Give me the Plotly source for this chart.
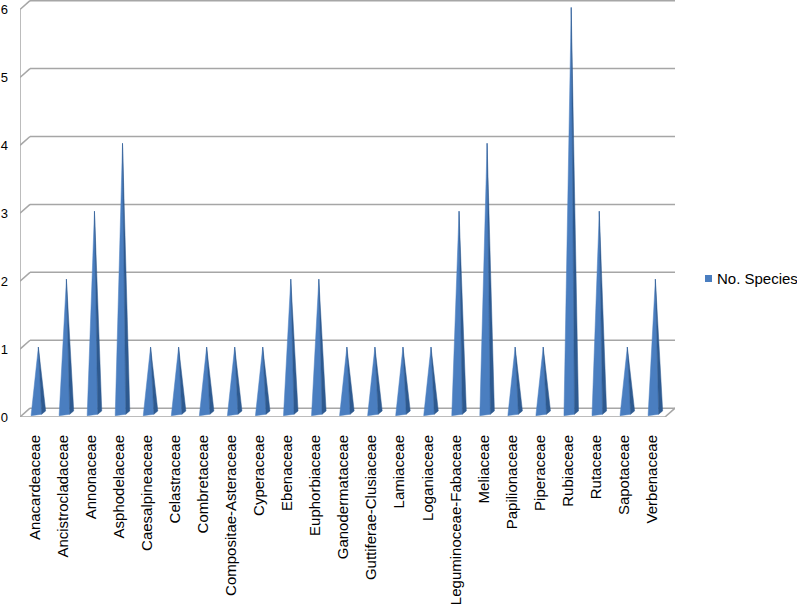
import plotly.graph_objects as go

categories = ["Anacardeaceae", "Ancistrocladaceae", "Annonaceae", "Asphodelaceae",
              "Caesalpineaceae", "Celastraceae", "Combretaceae", "Compositae-Asteraceae",
              "Cyperaceae", "Ebenaceae", "Euphorbiaceae", "Ganodermataceae",
              "Guttiferae-Clusiaceae", "Lamiaceae", "Loganiaceae", "Leguminoceae-Fabaceae",
              "Meliaceae", "Papilionaceae", "Piperaceae", "Rubiaceae", "Rutaceae",
              "Sapotaceae", "Verbenaceae"]
species = [1, 2, 3, 4, 1, 1, 1, 1, 1, 2, 2, 1, 1, 1, 1, 3, 4, 1, 1, 6, 3, 1, 2]
y_ticks = [0, 1, 2, 3, 4, 5, 6]
series_name = "No. Species"

n = len(categories)
X0, X1 = -0.535, 22.82
XB = -0.178         # back wall start
DY = 0.13           # back wall depth offset
HW = 0.26           # pyramid half width
OFF = 0.12
BLUE = "#4A7EC0"
DARK = "#2E5A90"

front_x, front_y, side_x, side_y = [], [], [], []
for i, v in enumerate(species):
    c = i + OFF
    front_x += [c - HW, c, c + 0.45 * HW, c - HW, None]
    front_y += [0.02, v + 0.03, 0.04, 0.02, None]
    side_x += [c + 0.45 * HW, c, c + HW, c + 0.45 * HW, None]
    side_y += [0.04, v + 0.03, 0.09, 0.04, None]

fig = go.Figure()
fig.add_trace(go.Scatter(x=front_x, y=front_y, fill="toself", mode="lines",
                         line=dict(width=0.5, color=BLUE), fillcolor=BLUE,
                         name=series_name, showlegend=False, hoverinfo="skip"))
fig.add_trace(go.Scatter(x=side_x, y=side_y, fill="toself", mode="lines",
                         line=dict(width=0.5, color=DARK), fillcolor=DARK,
                         showlegend=False, hoverinfo="skip"))

grid = "#A6A6A6"
shapes = []
for t in y_ticks:
    shapes.append(dict(type="line", xref="x", yref="y", x0=XB, x1=X1, y0=t + DY, y1=t + DY,
                       line=dict(color=grid, width=1.5), layer="below"))
    shapes.append(dict(type="line", xref="x", yref="y", x0=X0, x1=XB, y0=t, y1=t + DY,
                       line=dict(color=grid, width=1.5), layer="below"))
# front axis line and floor
shapes.append(dict(type="line", xref="x", yref="y", x0=X0, x1=X0, y0=0, y1=y_ticks[-1],
                   line=dict(color=grid, width=1.5), layer="below"))
shapes.append(dict(type="line", xref="x", yref="y", x0=X0, x1=X1 - (XB - X0), y0=0, y1=0,
                   line=dict(color=grid, width=1.5), layer="below"))
shapes.append(dict(type="line", xref="x", yref="y", x0=X1 - (XB - X0), x1=X1, y0=0, y1=DY,
                   line=dict(color=grid, width=1.5), layer="below"))

# legend (Excel-style, right of plot)
PW, PH = 655.0, 417.0
lx0 = (705 - 20) / PW
lx1 = (712 - 20) / PW
ly0 = (417 - 282) / PH
ly1 = (417 - 275) / PH
shapes.append(dict(type="rect", xref="paper", yref="paper", x0=lx0, x1=lx1, y0=ly0, y1=ly1,
                   fillcolor=BLUE, line=dict(width=0)))

fig.update_layout(
    width=797, height=609,
    margin=dict(l=20, r=122, t=0, b=192),
    paper_bgcolor="white", plot_bgcolor="white",
    shapes=shapes,
    showlegend=False,
    annotations=[dict(text=series_name, xref="paper", yref="paper",
                      x=(715 - 20) / PW, y=(417 - 278.5) / PH, xanchor="left",
                      yanchor="middle", showarrow=False, font=dict(size=15, color="black"))],
    font=dict(family="Liberation Sans, Arial, sans-serif", color="black"),
    xaxis=dict(range=[X0, X1], tickvals=list(range(n)), ticktext=categories,
               tickangle=-90, showgrid=False, zeroline=False, showline=False,
               ticks="", tickfont=dict(size=15), ticklabelstandoff=14, fixedrange=True,
               automargin=False),
    yaxis=dict(range=[0, 6.14], tickvals=y_ticks, showgrid=False, zeroline=False,
               showline=False, ticks="", tickfont=dict(size=13), ticklabelstandoff=11,
               fixedrange=True, automargin=False),
)

fig.write_html("out.html", config={"displayModeBar": False},
               post_script="document.body.style.margin='0';")
